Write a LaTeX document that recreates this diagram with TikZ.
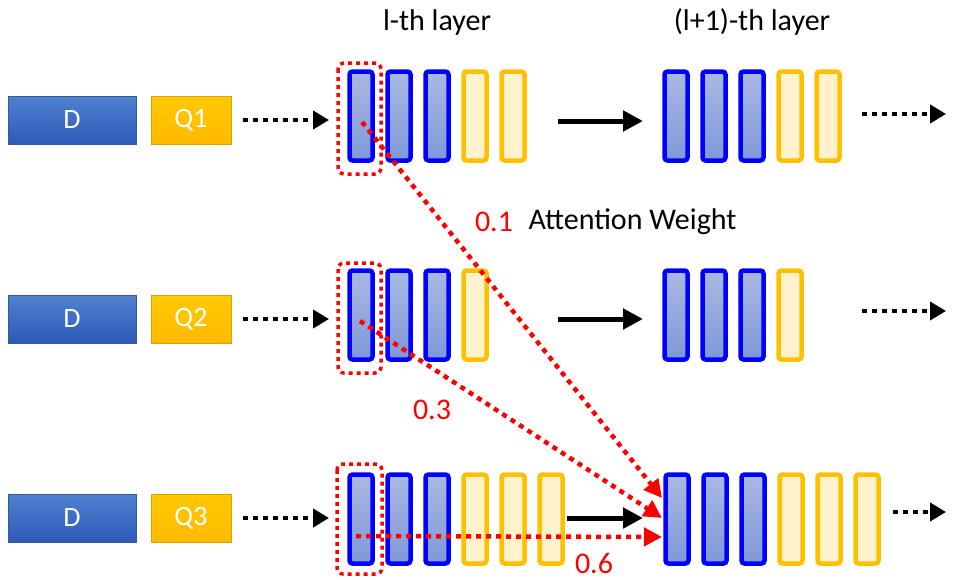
\documentclass[tikz,border=0pt]{standalone}
\usepackage{fontspec}
\setmainfont{Carlito}
\usetikzlibrary{arrows.meta}
\definecolor{bb}{HTML}{0000FF}
\definecolor{yb}{HTML}{FFC000}
\definecolor{yf}{HTML}{FFF2CC}
\definecolor{bt}{HTML}{AAB8E2}
\definecolor{bo}{HTML}{7F98D8}
\definecolor{dt}{HTML}{4F81D0}
\definecolor{db}{HTML}{2E5AB8}
\begin{document}
\begin{tikzpicture}[x=1pt,y=-1pt,
  bbar/.style={draw=bb,line width=4.5pt,rounded corners=3pt,top color=bt,bottom color=bo,minimum width=23pt,minimum height=89pt,inner sep=0pt},
  ybar/.style={draw=yb,line width=4.5pt,rounded corners=3pt,fill=yf,minimum width=23pt,minimum height=89pt,inner sep=0pt},
  dbox/.style={draw=dt!70!black,line width=0.6pt,top color=dt,bottom color=db,text=white,font=\fontsize{28}{28}\selectfont},
  qbox/.style={draw=yb!85!black,line width=0.6pt,top color=yb!85!yellow,bottom color=yb!90!orange,text=white,font=\fontsize{28}{28}\selectfont},
  dots/.style={line width=4.5pt,dash pattern=on 5pt off 5pt,-{Triangle[length=16pt,width=18pt]}},
  solid/.style={line width=5pt,-{Triangle[length=20pt,width=20pt]}},
  rdots/.style={red,line width=4.5pt,dash pattern=on 5pt off 5pt,-{Triangle[length=18pt,width=18pt]}},
  rbox/.style={red,line width=3.5pt,dash pattern=on 4pt off 4pt,rounded corners=6pt},
  lab/.style={font=\fontsize{30}{30}\selectfont},
  rlab/.style={font=\fontsize{30}{30}\selectfont,text=red}]
\useasboundingbox (0,0) rectangle (955,579);
\node[lab] (t1) at (437,22) {l-th layer};
\node[lab] (t2) at (752,22) {(l+1)-th layer};
\foreach \r/\y in {1/120,2/319,3/518}{
  \node[dbox,minimum width=128pt,minimum height=48pt] (D\r) at (72,\y) {D};
  \node[qbox,minimum width=80pt,minimum height=48pt] (Q\r) at (191,\y) {Q\r};
  \coordinate (da\r) at (243,\y);
  \coordinate (db\r) at (329,\y);
  \draw[dots] (da\r) -- (db\r);
}
\foreach \i/\x in {1/361,2/399,3/437}{\node[bbar] (a1\i) at (\x,116) {};}
\foreach \i/\x in {4/475,5/513}{\node[ybar] (a1\i) at (\x,116) {};}
\foreach \i/\x in {1/676,2/714,3/752}{\node[bbar] (b1\i) at (\x,116) {};}
\foreach \i/\x in {4/790,5/828}{\node[ybar] (b1\i) at (\x,116) {};}
\foreach \i/\x in {1/361,2/399,3/437}{\node[bbar] (a2\i) at (\x,315) {};}
\node[ybar] (a24) at (475,315) {};
\foreach \i/\x in {1/676,2/714,3/752}{\node[bbar] (b2\i) at (\x,315) {};}
\node[ybar] (b24) at (790,315) {};
\foreach \i/\x in {1/361,2/399,3/437}{\node[bbar] (a3\i) at (\x,519) {};}
\foreach \i/\x in {4/475,5/513,6/551}{\node[ybar] (a3\i) at (\x,519) {};}
\foreach \i/\x in {1/677,2/715,3/753}{\node[bbar] (b3\i) at (\x,519) {};}
\foreach \i/\x in {4/791,5/829,6/867}{\node[ybar] (b3\i) at (\x,519) {};}
\coordinate (s1a) at (558,121); \coordinate (s1b) at (643,121);
\coordinate (s2a) at (558,319); \coordinate (s2b) at (643,319);
\coordinate (s3a) at (567,518); \coordinate (s3b) at (643,518);
\draw[solid] (s1a) -- (s1b);
\draw[solid] (s2a) -- (s2b);
\draw[solid] (s3a) -- (s3b);
\coordinate (e1a) at (862,114); \coordinate (e1b) at (946,114);
\coordinate (e2a) at (862,311); \coordinate (e2b) at (946,311);
\coordinate (e3a) at (893,512); \coordinate (e3b) at (946,512);
\draw[dots] (e1a) -- (e1b);
\draw[dots] (e2a) -- (e2b);
\draw[dots] (e3a) -- (e3b);
\draw[rbox] (338,63) rectangle (381,174);
\draw[rbox] (338,263) rectangle (381,373);
\draw[rbox] (337,464) rectangle (382,574);
\coordinate (r1) at (362,122);
\coordinate (r2) at (360,321);
\coordinate (r3) at (356,536);
\coordinate (t1e) at (662,498);
\coordinate (t2e) at (662,518);
\coordinate (t3e) at (662,537);
\draw[rdots] (r1) -- (t1e);
\draw[rdots] (r2) -- (t2e);
\draw[rdots] (r3) -- (t3e);
\node[rlab] (w1) at (494,222) {0.1};
\node[lab,anchor=west] (aw) at (525,222) {Attention Weight};
\node[rlab] (w2) at (432,410) {0.3};
\node[rlab] (w3) at (594,563) {0.6};
\end{tikzpicture}
\end{document}
